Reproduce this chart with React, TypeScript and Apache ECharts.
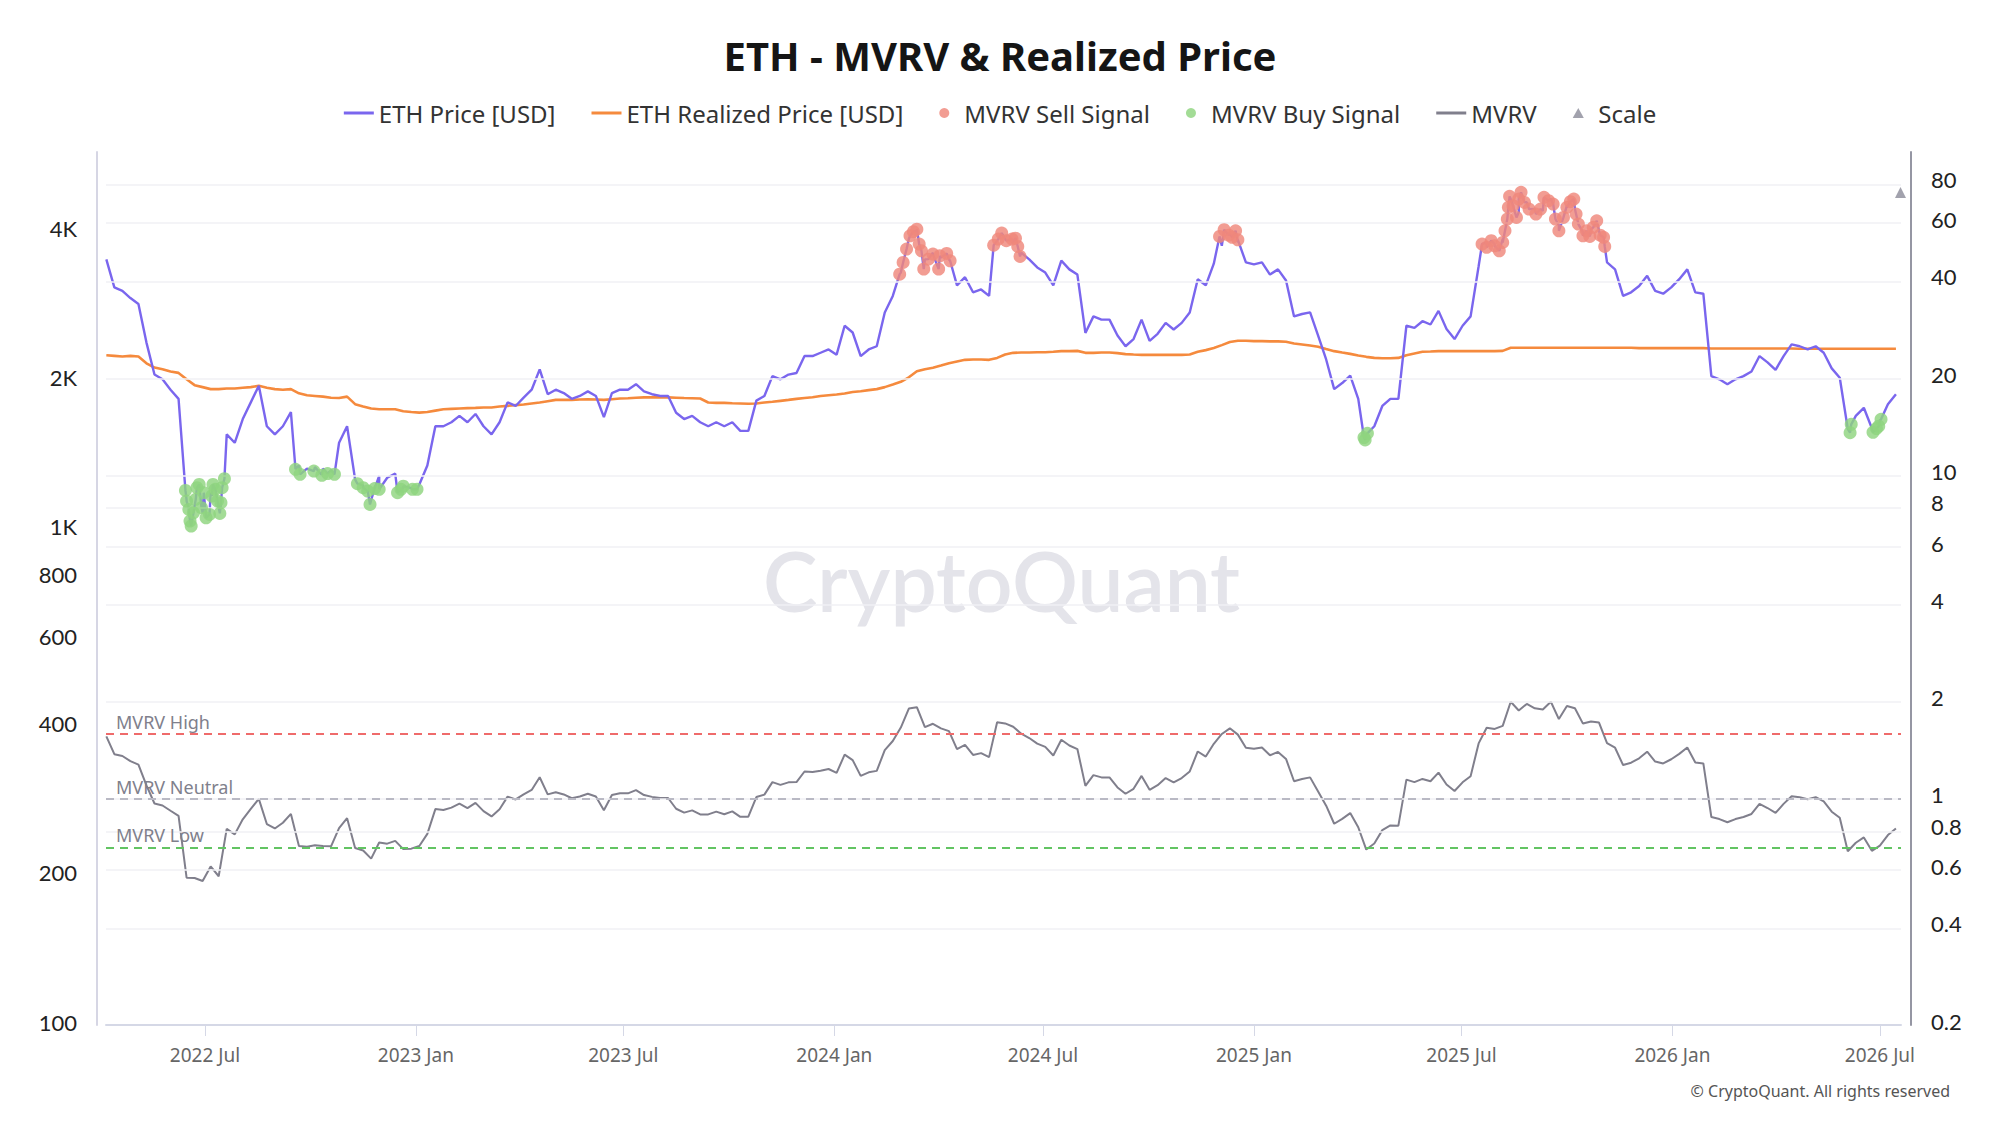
import React, { useEffect, useRef } from "react";
import * as echarts from "echarts";

// Weekly samples, first one on 2022-04-06
const START_DATE = "2022-04-06";
const WEEK_MS = 7 * 86400000;

const ethPrice = [
  3520, 3090, 3040, 2940, 2860, 2390, 2060, 2015, 1920, 1840,
  1150, 1117, 1083, 1190, 1110, 1560, 1500, 1675, 1810, 1955,
  1620, 1560, 1620, 1730, 1350, 1330, 1340, 1330, 1320, 1500,
  1620, 1265, 1230, 1150, 1285, 1275, 1300, 1215, 1215, 1235,
  1350, 1620, 1620, 1650, 1700, 1650, 1715, 1620, 1560, 1650,
  1810, 1780, 1850, 1920, 2110, 1880, 1920, 1890, 1840, 1865,
  1905, 1865, 1690, 1890, 1920, 1920, 1970, 1905, 1880, 1865,
  1865, 1725, 1675, 1700, 1650, 1620, 1650, 1620, 1650, 1585,
  1585, 1825, 1865, 2045, 2015, 2060, 2075, 2245, 2245, 2280,
  2315, 2260, 2585, 2505, 2245, 2315, 2350, 2750, 2970, 3310,
  3870, 4020, 3520, 3630, 3550, 3520, 3120, 3240, 3020, 3060,
  2970, 3840, 3870, 3810, 3630, 3520, 3390, 3310, 3120, 3500,
  3360, 3280, 2500, 2700, 2660, 2660, 2470, 2350, 2430, 2660,
  2410, 2490, 2620, 2540, 2620, 2750, 3210, 3120, 3450, 3750,
  3960, 3810, 3470, 3440, 3470, 3280, 3360, 3190, 2700, 2730,
  2750, 2470, 2210, 1925, 1980, 2050, 1840, 1560, 1620, 1780,
  1840, 1840, 2585, 2560, 2640, 2600, 2770, 2545, 2430, 2585,
  2700, 3410, 3810, 3780, 3870, 4660, 4380, 4590, 4450, 4410,
  4660, 4120, 4520, 4450, 3990, 4050, 4020, 3470, 3360, 2970,
  3020, 3110, 3260, 3040, 3000, 3090, 3210, 3360, 3020, 3000,
  2045, 2015, 1970, 2015, 2045, 2090, 2245, 2180, 2105, 2245,
  2370, 2350, 2315, 2350, 2280, 2120, 2030, 1600, 1700, 1765,
  1605, 1665, 1795, 1880,
];

const realizedPrice = [
  2254, 2247, 2240, 2247, 2240, 2171, 2128, 2112, 2089, 2076,
  2015, 1961, 1943, 1925, 1925, 1931, 1931, 1937, 1943, 1955,
  1937, 1925, 1919, 1925, 1888, 1871, 1865, 1859, 1850, 1847,
  1859, 1795, 1775, 1759, 1753, 1753, 1753, 1737, 1731, 1726,
  1731, 1742, 1753, 1756, 1759, 1762, 1764, 1767, 1767, 1775,
  1781, 1787, 1792, 1801, 1809, 1820, 1831, 1831, 1831, 1834,
  1837, 1834, 1831, 1837, 1843, 1845, 1850, 1853, 1853, 1853,
  1853, 1850, 1847, 1845, 1843, 1809, 1806, 1806, 1803, 1801,
  1798, 1801, 1809, 1815, 1823, 1831, 1840, 1847, 1853, 1865,
  1871, 1877, 1886, 1900, 1906, 1916, 1925, 1943, 1967, 1992,
  2034, 2092, 2112, 2126, 2148, 2172, 2189, 2206, 2209, 2209,
  2206, 2226, 2261, 2279, 2282, 2282, 2286, 2286, 2290, 2297,
  2297, 2300, 2279, 2279, 2282, 2282, 2276, 2265, 2261, 2258,
  2258, 2258, 2258, 2258, 2258, 2261, 2290, 2308, 2330, 2362,
  2396, 2411, 2411, 2407, 2407, 2404, 2404, 2400, 2381, 2370,
  2359, 2344, 2319, 2297, 2282, 2268, 2251, 2237, 2226, 2223,
  2223, 2226, 2254, 2272, 2290, 2293, 2297, 2297, 2297, 2297,
  2297, 2297, 2297, 2297, 2300, 2334, 2334, 2334, 2334, 2334,
  2334, 2334, 2334, 2334, 2334, 2334, 2334, 2334, 2334, 2334,
  2334, 2330, 2330, 2330, 2330, 2330, 2330, 2330, 2330, 2330,
  2326, 2326, 2326, 2326, 2326, 2326, 2326, 2326, 2326, 2326,
  2326, 2322, 2322, 2322, 2322, 2322, 2322, 2322, 2322, 2322,
  2322, 2322, 2322, 2322,
];

// Daily prices flagged as MVRV extremes: [date, price]
const sellSignals: [string, number][] = [
  ["2024-02-27", 3286], ["2024-03-01", 3470], ["2024-03-04", 3692], ["2024-03-07", 3928],
  ["2024-03-10", 4003], ["2024-03-13", 4050], ["2024-03-15", 3780], ["2024-03-17", 3663],
  ["2024-03-19", 3364], ["2024-03-23", 3524], ["2024-03-27", 3607], ["2024-04-01", 3364],
  ["2024-04-02", 3578], ["2024-04-08", 3618], ["2024-04-11", 3497],
  ["2024-05-19", 3761], ["2024-05-23", 3868], ["2024-05-26", 3978], ["2024-05-30", 3840],
  ["2024-06-04", 3868], ["2024-06-07", 3885], ["2024-06-09", 3738], ["2024-06-11", 3569],
  ["2024-12-02", 3917], ["2024-12-06", 4040], ["2024-12-10", 3940], ["2024-12-13", 3900],
  ["2024-12-16", 4020], ["2024-12-18", 3855],
  ["2025-07-19", 3780], ["2025-07-23", 3722], ["2025-07-27", 3840], ["2025-07-30", 3749],
  ["2025-08-03", 3663], ["2025-08-06", 3809], ["2025-08-08", 4020], ["2025-08-10", 4246],
  ["2025-08-11", 4484], ["2025-08-12", 4719], ["2025-08-15", 4517], ["2025-08-18", 4279],
  ["2025-08-20", 4660], ["2025-08-22", 4807], ["2025-08-25", 4588], ["2025-08-29", 4447],
  ["2025-09-04", 4345], ["2025-09-08", 4447], ["2025-09-11", 4697], ["2025-09-15", 4624],
  ["2025-09-19", 4553], ["2025-09-21", 4246], ["2025-09-24", 4020], ["2025-09-28", 4279],
  ["2025-10-01", 4484], ["2025-10-04", 4602], ["2025-10-07", 4660], ["2025-10-09", 4345],
  ["2025-10-11", 4148], ["2025-10-15", 3928], ["2025-10-18", 4020], ["2025-10-21", 3917],
  ["2025-10-24", 4085], ["2025-10-27", 4212], ["2025-10-30", 3940], ["2025-11-02", 3900],
  ["2025-11-03", 3738],
];

const buySignals: [string, number][] = [
  ["2022-06-14", 1202], ["2022-06-15", 1144], ["2022-06-17", 1100], ["2022-06-18", 1042],
  ["2022-06-19", 1018], ["2022-06-21", 1083], ["2022-06-23", 1153], ["2022-06-24", 1217],
  ["2022-06-26", 1236], ["2022-06-28", 1109], ["2022-06-30", 1189], ["2022-07-02", 1058],
  ["2022-07-05", 1075], ["2022-07-07", 1171], ["2022-07-08", 1236], ["2022-07-10", 1208],
  ["2022-07-12", 1144], ["2022-07-14", 1080], ["2022-07-15", 1135], ["2022-07-16", 1217],
  ["2022-07-18", 1269],
  ["2022-09-18", 1326], ["2022-09-22", 1295], ["2022-10-04", 1315], ["2022-10-11", 1289],
  ["2022-10-16", 1300], ["2022-10-22", 1295],
  ["2022-11-11", 1240], ["2022-11-16", 1217], ["2022-11-20", 1198], ["2022-11-22", 1126],
  ["2022-11-26", 1212], ["2022-11-30", 1208],
  ["2022-12-16", 1189], ["2022-12-19", 1208], ["2022-12-21", 1226], ["2022-12-29", 1208],
  ["2023-01-02", 1208],
  ["2025-04-07", 1537], ["2025-04-08", 1520], ["2025-04-10", 1567],
  ["2026-06-05", 1572], ["2026-06-06", 1634], ["2026-06-25", 1575], ["2026-06-28", 1602],
  ["2026-06-30", 1620], ["2026-07-02", 1673],
];

const MVRV_HIGH = 1.6;
const MVRV_NEUTRAL = 1;
const MVRV_LOW = 0.7;

const scalePoint: [string, number] = ["2026-07-19", 75];

const priceTicks = [100, 200, 400, 600, 800, 1000, 2000, 4000];
const ratioTicks = [0.2, 0.4, 0.6, 0.8, 1, 2, 4, 6, 8, 10, 20, 40, 60, 80];
const dateTicks = [
  "2022-07-01", "2023-01-01", "2023-07-01", "2024-01-01", "2024-07-01",
  "2025-01-01", "2025-07-01", "2026-01-01", "2026-07-01",
];

const MONTHS = ["Jan", "Feb", "Mar", "Apr", "May", "Jun", "Jul", "Aug", "Sep", "Oct", "Nov", "Dec"];

const PRICE_MIN = 100;
const PRICE_MAX = 5800;
const RATIO_MIN = 0.2;
const RATIO_MAX = 100;
const X_MIN = Date.parse("2022-04-05T17:00:00Z");
const X_MAX = Date.parse("2026-07-19T10:00:00Z");

const lg = Math.log10;

// Legend glyphs: flat bar for lines, small triangle for the scale marker
const LINE_ICON = "path://M0,0H30V3H0Z";
const TRIANGLE_ICON = "path://M5,0L10,9H0Z";

export default function App() {
  const ref = useRef<HTMLDivElement>(null);

  useEffect(() => {
    if (!ref.current) return;
    const chart = echarts.init(ref.current, undefined, { renderer: "svg" });

    const t0 = Date.parse(START_DATE);
    const weekly = ethPrice.map((p, i) => [t0 + i * WEEK_MS, p] as [number, number]);
    const sellPts = sellSignals.map(([d, p]) => [Date.parse(d), p] as [number, number]);
    const buyPts = buySignals.map(([d, p]) => [Date.parse(d), p] as [number, number]);

    // Price line runs through the weekly samples and the flagged daily readings
    const priceLine = [...weekly, ...sellPts, ...buyPts]
      .sort((a, b) => a[0] - b[0])
      .map(([t, p]) => [t, lg(p)]);

    const realizedLine = realizedPrice.map((p, i) => [t0 + i * WEEK_MS, lg(p)]);
    // MVRV = market value / realized value = price / realized price
    const mvrvLine = ethPrice.map((p, i) => [t0 + i * WEEK_MS, lg(p / realizedPrice[i])]);

    const dateTickValues = dateTicks.map((d) => Date.parse(d));

    const gridLines = ratioTicks.map((v) => ({
      yAxis: lg(v),
      lineStyle: { color: "#f0f0f4", width: 1.5, type: "solid" },
      label: { show: false },
    }));

    const levelLabel = (text: string) => ({
      show: true,
      position: "insideStartTop",
      formatter: text,
      color: "#80808c",
      fontSize: 18,
      fontFamily: "Noto Sans",
      distance: [10, 3],
    });

    const option: any = {
      animation: false,
      backgroundColor: "#ffffff",
      title: {
        text: "ETH - MVRV & Realized Price",
        left: "center",
        top: 30,
        textStyle: { fontSize: 40, fontWeight: "bold", color: "#151515", fontFamily: "Noto Sans" },
      },
      legend: {
        top: 96,
        left: "center",
        itemWidth: 30,
        itemHeight: 10,
        itemGap: 36,
        textStyle: { fontSize: 24, color: "#333", fontFamily: "Noto Sans" },
        data: [
          { name: "ETH Price [USD]", icon: LINE_ICON },
          { name: "ETH Realized Price [USD]", icon: LINE_ICON },
          { name: "MVRV Sell Signal", icon: "circle" },
          { name: "MVRV Buy Signal", icon: "circle" },
          { name: "MVRV", icon: LINE_ICON },
          { name: "Scale", icon: TRIANGLE_ICON },
        ],
      },
      grid: { left: 106, right: 99, top: 152, bottom: 100 },
      xAxis: {
        type: "value",
        min: X_MIN,
        max: X_MAX,
        axisLine: { show: true, onZero: false, lineStyle: { color: "#d5d8e6", width: 2 } },
        axisTick: { show: true, customValues: dateTickValues, length: 11, lineStyle: { color: "#d5d8e6", width: 1 } },
        axisLabel: {
          customValues: dateTickValues,
          margin: 20,
          fontSize: 19,
          color: "#666",
          fontFamily: "Noto Sans",
          formatter: (v: number) => {
            const d = new Date(v);
            return `${d.getUTCFullYear()} ${MONTHS[d.getUTCMonth()]}`;
          },
        },
        splitLine: { show: false },
      },
      yAxis: [
        {
          type: "value",
          position: "left",
          min: lg(PRICE_MIN),
          max: lg(PRICE_MAX),
          offset: 9,
          axisLine: { show: true, onZero: false, lineStyle: { color: "#d6d6e4", width: 2 } },
          axisTick: { show: false },
          splitLine: { show: false },
          axisLabel: {
            customValues: priceTicks.map(lg),
            margin: 20,
            fontSize: 22,
            color: "#222",
            fontFamily: "Lato",
            verticalAlign: "bottom",
            lineHeight: 6,
            formatter: (v: number) => {
              const p = Math.round(Math.pow(10, v));
              return p >= 1000 ? `${p / 1000}K` : `${p}`;
            },
          },
        },
        {
          type: "value",
          position: "right",
          min: lg(RATIO_MIN),
          max: lg(RATIO_MAX),
          offset: 10,
          axisLine: { show: true, onZero: false, lineStyle: { color: "#9596a3", width: 2 } },
          axisTick: { show: false },
          splitLine: { show: false },
          axisLabel: {
            customValues: ratioTicks.map(lg),
            margin: 20,
            fontSize: 22,
            color: "#222",
            fontFamily: "Lato",
            verticalAlign: "bottom",
            lineHeight: 8,
            formatter: (v: number) => `${Number(Math.pow(10, v).toPrecision(2))}`,
          },
        },
      ],
      graphic: [
        {
          type: "text",
          left: 1003 - 240,
          top: 584 - 45,
          z: 0,
          silent: true,
          style: {
            text: "CryptoQuant",
            fontSize: 82,
            fontWeight: 600,
            fontFamily: "Lato",
            fill: "#e4e4ea",
          },
        },
        {
          type: "text",
          right: 50,
          top: 1083,
          silent: true,
          style: {
            text: "© CryptoQuant. All rights reserved",
            fontSize: 16,
            fontFamily: "Noto Sans",
            fill: "#555",
          },
        },
      ],
      series: [
        {
          name: "MVRV",
          type: "line",
          yAxisIndex: 1,
          data: mvrvLine,
          symbol: "none",
          z: 2,
          color: "#807f8c",
          lineStyle: { width: 2, color: "#807f8c" },
          markLine: {
            silent: true,
            symbol: "none",
            animation: false,
            data: [
              ...gridLines,
              {
                yAxis: lg(MVRV_HIGH),
                lineStyle: { color: "#ef6b6b", width: 1.8, type: [8, 6] },
                label: levelLabel("MVRV High"),
              },
              {
                yAxis: lg(MVRV_NEUTRAL),
                lineStyle: { color: "#b9b9c4", width: 1.8, type: [8, 6] },
                label: levelLabel("MVRV Neutral"),
              },
              {
                yAxis: lg(MVRV_LOW),
                lineStyle: { color: "#62c462", width: 1.8, type: [8, 6] },
                label: levelLabel("MVRV Low"),
              },
            ],
          },
        },
        {
          name: "ETH Realized Price [USD]",
          type: "line",
          yAxisIndex: 0,
          data: realizedLine,
          symbol: "none",
          z: 3,
          color: "#f58a3d",
          lineStyle: { width: 2.6, color: "#f58a3d" },
        },
        {
          name: "ETH Price [USD]",
          type: "line",
          yAxisIndex: 0,
          data: priceLine,
          symbol: "none",
          z: 4,
          color: "#7a66ee",
          lineStyle: { width: 2.4, color: "#7a66ee" },
        },
        {
          name: "MVRV Sell Signal",
          type: "scatter",
          yAxisIndex: 0,
          data: sellPts.map(([t, p]) => [t, lg(p)]),
          symbol: "circle",
          symbolSize: 13,
          z: 5,
          color: "#ef887b",
          itemStyle: { color: "#ef887b", opacity: 0.82 },
        },
        {
          name: "MVRV Buy Signal",
          type: "scatter",
          yAxisIndex: 0,
          data: buyPts.map(([t, p]) => [t, lg(p)]),
          symbol: "circle",
          symbolSize: 13,
          z: 5,
          color: "#8fd47f",
          itemStyle: { color: "#8fd47f", opacity: 0.82 },
        },
        {
          name: "Scale",
          type: "scatter",
          yAxisIndex: 1,
          data: [[Date.parse(scalePoint[0]), lg(scalePoint[1])]],
          symbol: "triangle",
          symbolSize: 11,
          z: 5,
          color: "#8b8b98",
          itemStyle: { color: "#8b8b98" },
        },
      ],
    };

    chart.setOption(option);
    return () => chart.dispose();
  }, []);

  return (
    <div
      ref={ref}
      style={{ position: "fixed", left: 0, top: 0, width: 2000, height: 1125, background: "#fff" }}
    />
  );
}
